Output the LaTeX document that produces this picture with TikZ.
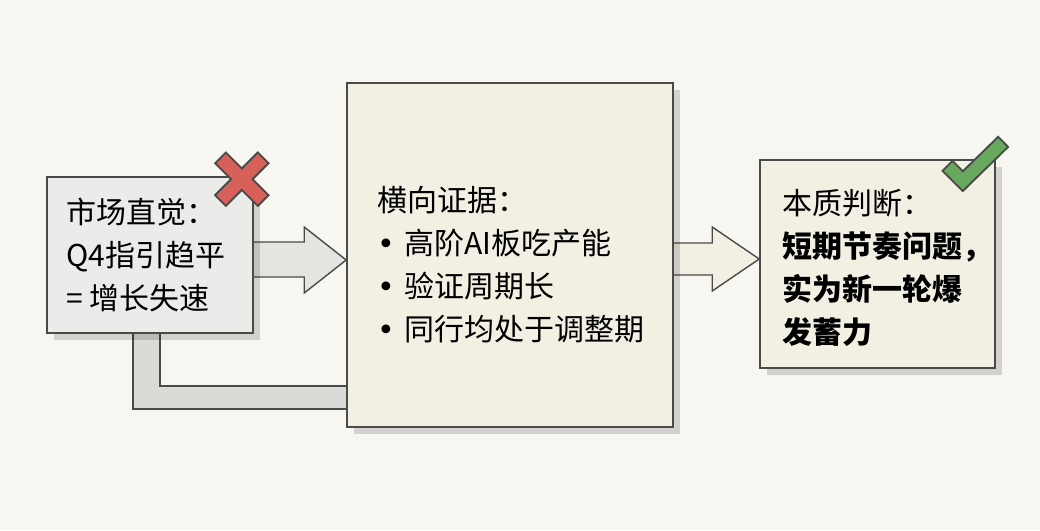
\documentclass[tikz,border=0pt]{standalone}
\usepackage{fontspec}
\setmainfont{Noto Sans CJK SC}
\newfontfamily\dotfont{DejaVu Sans}
\usetikzlibrary{calc, positioning, backgrounds, shadows}

\definecolor{paper}{HTML}{F7F6F1}
\definecolor{ink}{HTML}{4A4A48}
\definecolor{greybox}{HTML}{EBEBE9}
\definecolor{creambox}{HTML}{F2EFE3}
\definecolor{greyarrow}{HTML}{E4E4E1}
\definecolor{greyreturn}{HTML}{DADAD7}
\definecolor{crossred}{HTML}{D8605B}
\definecolor{checkgreen}{HTML}{68A85E}

\begin{document}
\begin{tikzpicture}[
    x=1pt, y=-1pt,
    every node/.style={font=\fontsize{30}{43}\selectfont},
    panel/.style={draw=ink, line width=1.6pt, drop shadow={shadow xshift=7pt, shadow yshift=-7pt, fill=black, opacity=0.15}},
    boxtext/.style={inner sep=0pt, align=left, anchor=west},
    blockarrow/.style={draw=ink, line width=1.4pt, line join=miter},
    markedge/.style={draw=ink, line cap=butt, line join=miter}
]
\useasboundingbox (0,0) rectangle (1040,530);

% Boites
\node[panel, fill=greybox, minimum width=206pt, minimum height=156pt] (intuition) at (150,255) {};
\node[panel, fill=creambox, minimum width=326pt, minimum height=344pt] (evidence) at (510,255) {};
\node[panel, fill=creambox, minimum width=235pt, minimum height=208pt] (verdict) at (877.5,264) {};

% Textes
\node[boxtext, right=20pt of intuition.west] (intuition-text) {市场直觉：\\Q4指引趋平\\= 增长失速};
\node[boxtext, right=31pt of evidence.west, yshift=-10pt] (evidence-text) {横向证据：\\\makebox[27pt][l]{\dotfont •}高阶AI板吃产能\\\makebox[27pt][l]{\dotfont •}验证周期长\\\makebox[27pt][l]{\dotfont •}同行均处于调整期};
\node[boxtext, right=23pt of verdict.west, yshift=-4pt] (verdict-text) {本质判断：\\\textbf{短期节奏问题，}\\\textbf{实为新一轮爆}\\\textbf{发蓄力}};

% Fleches (sous les boites)
\begin{scope}[on background layer]
\fill[paper] (0,0) rectangle (1040,530);
\coordinate (tip1) at ($(evidence.west)+(0,5)$);
\draw[blockarrow, fill=greyarrow] ($(intuition.east)+(-10,-13)$) -- ($(tip1)+(-42,-18)$) -- ($(tip1)+(-42,-33)$) -- (tip1)
    -- ($(tip1)+(-42,33)$) -- ($(tip1)+(-42,17)$) -- ($(intuition.east)+(-10,22)$) -- cycle;
\coordinate (tip2) at ($(verdict.west)+(0,-5)$);
\draw[blockarrow, fill=creambox] ($(evidence.east)+(-10,-12)$) -- ($(tip2)+(-47,-16)$) -- ($(tip2)+(-47,-32)$) -- (tip2)
    -- ($(tip2)+(-47,32)$) -- ($(tip2)+(-47,16)$) -- ($(evidence.east)+(-10,20)$) -- cycle;
% retour par le bas
\draw[blockarrow, fill=greyreturn] ($(intuition.south)+(-17,-10)$) |- ($(evidence.south west)+(5,-19)$) -- ++(0,-23)
    -| ($(intuition.south)+(10,-10)$) -- cycle;
\end{scope}

% Croix et coche
\coordinate (cross) at ($(intuition.north east)+(-12,3)$);
\draw[markedge, line width=17pt] ($(cross)+(-22,-22)$) -- ($(cross)+(22,22)$) ($(cross)+(-22,22)$) -- ($(cross)+(22,-22)$);
\draw[markedge, draw=crossred, line width=13pt, shorten <=2pt, shorten >=2pt] ($(cross)+(-22,-22)$) -- ($(cross)+(22,22)$);
\draw[markedge, draw=crossred, line width=13pt, shorten <=2pt, shorten >=2pt] ($(cross)+(-22,22)$) -- ($(cross)+(22,-22)$);
\coordinate (check) at (verdict.north east);
\draw[markedge, line width=16pt] ($(check)+(-49,6)$) -- ($(check)+(-33,22)$) -- ($(check)+(8,-18)$);
\draw[markedge, draw=checkgreen, line width=12pt, shorten <=2pt, shorten >=2pt] ($(check)+(-49,6)$) -- ($(check)+(-33,22)$) -- ($(check)+(8,-18)$);

\end{tikzpicture}
\end{document}
